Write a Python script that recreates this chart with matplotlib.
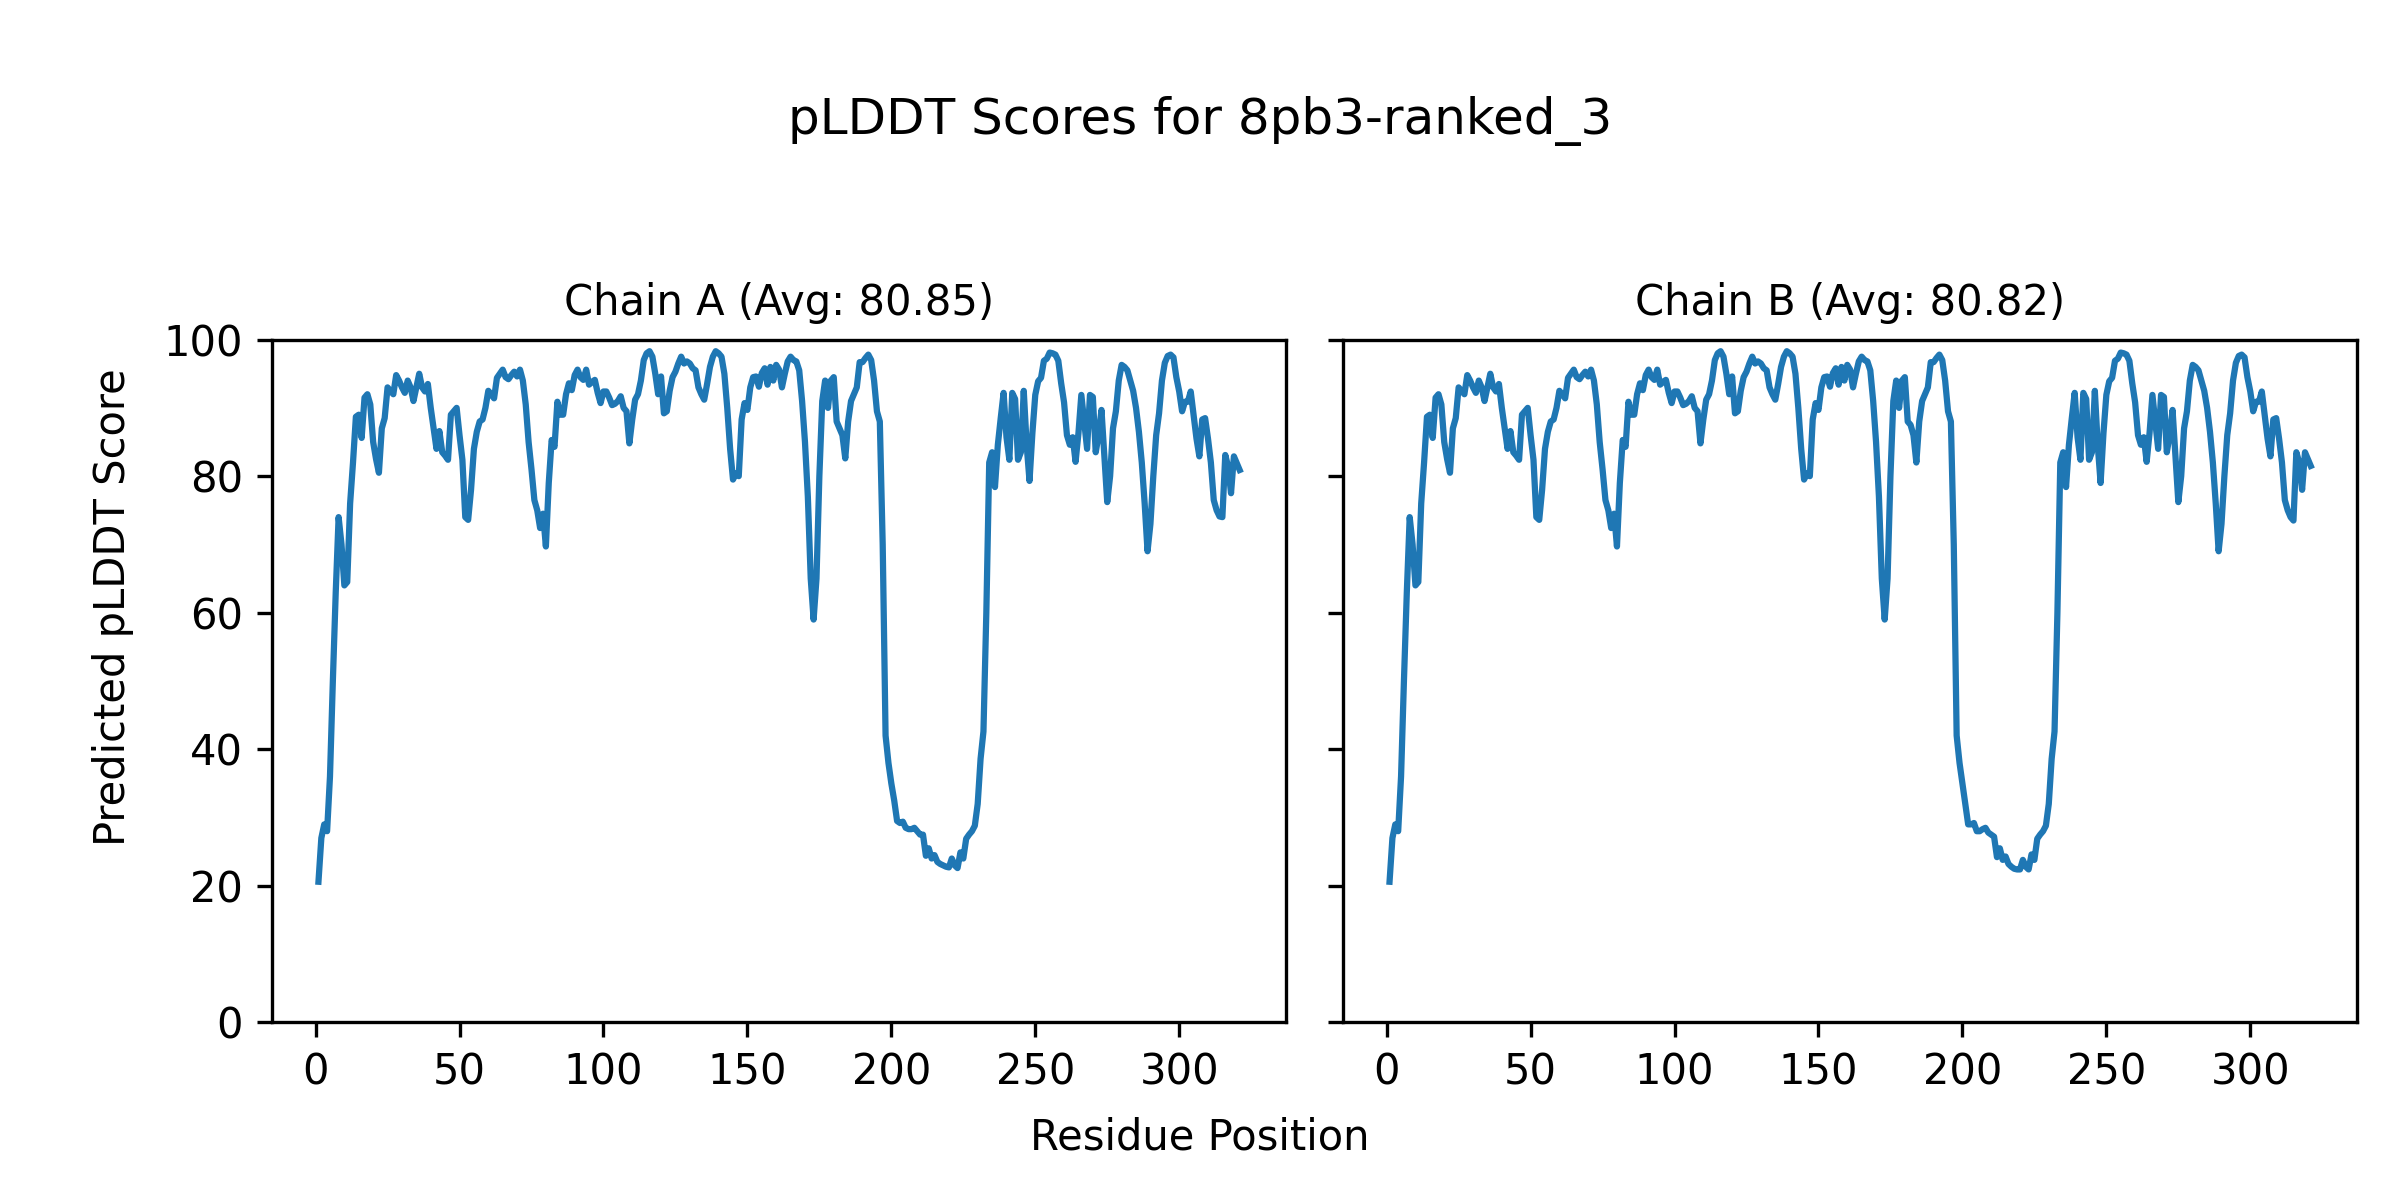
import matplotlib
matplotlib.use("Agg")
from matplotlib import pyplot as plt

model_name = "8pb3-ranked_3"
chain_ids = ["A", "B"]
chain_avgs = [80.85, 80.82]

# per-residue pLDDT, residues 1..321
chain_a = [
    20.6, 27.0, 29.0, 28.0, 36.0, 50.0, 63.0, 74.0, 70.0, 64.0,
    64.5, 76.0, 82.0, 88.7, 89.0, 85.6, 91.5, 92.0, 90.5, 85.0,
    82.5, 80.5, 87.0, 88.5, 93.0, 92.5, 92.0, 94.8, 94.0, 93.0,
    92.2, 94.0, 93.0, 91.0, 93.0, 95.0, 93.0, 92.4, 93.5, 90.0,
    87.0, 84.0, 86.6, 83.5, 83.0, 82.4, 89.0, 89.5, 90.0, 86.0,
    82.4, 74.0, 73.6, 78.0, 84.0, 86.5, 88.0, 88.3, 90.0, 92.5,
    92.0, 91.4, 94.4, 95.0, 95.6, 94.5, 94.2, 94.8, 95.3, 94.6,
    95.6, 94.0, 90.5, 85.0, 81.0, 76.5, 75.0, 72.4, 74.5, 69.7,
    79.0, 85.3, 84.3, 90.9, 89.0, 89.0, 92.0, 93.6, 92.6, 94.8,
    95.6, 94.5, 94.1, 95.6, 93.4, 93.8, 94.1, 92.2, 90.7, 92.4,
    92.4, 91.5, 90.4, 90.6, 91.0, 91.7, 90.0, 89.5, 84.8, 88.3,
    91.2, 92.0, 94.0, 97.0, 98.0, 98.3, 97.5, 95.0, 92.0, 94.6,
    89.2, 89.5, 92.5, 94.5, 95.3, 96.5, 97.5, 96.5, 96.8, 96.5,
    95.8, 95.5, 93.0, 92.0, 91.2, 93.5, 96.0, 97.5, 98.3, 98.0,
    97.5, 95.0, 90.0, 84.0, 79.5, 80.4, 80.0, 88.3, 90.7, 89.7,
    93.0, 94.5, 94.6, 93.1, 95.1, 95.8, 93.4, 96.0, 94.0, 96.3,
    95.6, 93.0, 95.0, 96.8, 97.5, 97.0, 96.8, 95.5, 91.0, 85.0,
    77.0, 65.0, 59.0, 65.0, 80.0, 91.0, 94.0, 90.0, 94.0, 94.5,
    88.0, 87.0, 86.0, 82.6, 88.0, 91.0, 92.0, 93.0, 96.7, 96.7,
    97.3, 97.8, 97.0, 94.0, 89.5, 88.0, 70.0, 42.0, 38.0, 35.0,
    32.5, 29.5, 29.2, 29.4, 28.5, 28.3, 28.3, 28.5, 28.0, 27.5,
    27.5, 24.4, 25.5, 24.0, 24.5, 23.5, 23.2, 23.0, 22.8, 22.7,
    24.0, 23.0, 22.6, 24.9, 24.0, 26.9, 27.5, 28.0, 28.8, 32.0,
    38.6, 42.6, 60.0, 82.0, 83.5, 78.4, 84.6, 88.5, 92.2, 85.7,
    82.4, 92.2, 91.3, 82.4, 83.5, 92.5, 84.6, 79.3, 86.3, 91.9,
    93.9, 94.4, 96.9, 97.2, 98.1, 98.0, 97.8, 96.9, 93.6, 90.8,
    86.0, 84.6, 85.7, 82.1, 86.3, 91.9, 88.0, 84.0, 91.9, 91.6,
    83.5, 86.0, 89.7, 83.0, 76.2, 80.0, 87.0, 89.5, 94.0, 96.3,
    96.0, 95.5, 94.0, 92.5, 90.0, 86.5, 82.0, 76.0, 69.0, 73.0,
    80.0, 86.0, 89.2, 94.0, 96.6, 97.6, 97.8, 97.4, 94.5, 92.4,
    89.5, 90.9, 90.9, 92.4, 89.0, 85.5, 82.9, 88.3, 88.5, 85.5,
    82.0, 76.5, 75.0, 74.1, 74.0, 83.1, 81.4, 77.5, 82.9, 81.9,
    80.9,
]

chain_b = [
    20.6, 27.0, 29.0, 28.0, 36.0, 50.0, 63.0, 74.0, 70.0, 64.0,
    64.5, 76.0, 82.0, 88.7, 89.0, 85.6, 91.5, 92.0, 90.5, 85.0,
    82.5, 80.5, 87.0, 88.5, 93.0, 92.5, 92.0, 94.8, 94.0, 93.0,
    92.2, 94.0, 93.0, 91.0, 93.0, 95.0, 93.0, 92.4, 93.5, 90.0,
    87.0, 84.0, 86.6, 83.5, 83.0, 82.4, 89.0, 89.5, 90.0, 86.0,
    82.4, 74.0, 73.6, 78.0, 84.0, 86.5, 88.0, 88.3, 90.0, 92.5,
    92.0, 91.4, 94.4, 95.0, 95.6, 94.5, 94.2, 94.8, 95.3, 94.6,
    95.6, 94.0, 90.5, 85.0, 81.0, 76.5, 75.0, 72.4, 74.5, 69.7,
    79.0, 85.3, 84.3, 90.9, 89.0, 89.0, 92.0, 93.6, 92.6, 94.8,
    95.6, 94.5, 94.1, 95.6, 93.4, 93.8, 94.1, 92.2, 90.7, 92.4,
    92.4, 91.5, 90.4, 90.6, 91.0, 91.7, 90.0, 89.5, 84.8, 88.3,
    91.2, 92.0, 94.0, 97.0, 98.0, 98.3, 97.5, 95.0, 92.0, 94.6,
    89.2, 89.5, 92.5, 94.5, 95.3, 96.5, 97.5, 96.5, 96.8, 96.5,
    95.8, 95.5, 93.0, 92.0, 91.2, 93.5, 96.0, 97.5, 98.3, 98.0,
    97.5, 95.0, 90.0, 84.0, 79.5, 80.4, 80.0, 88.3, 90.7, 89.7,
    93.0, 94.5, 94.6, 93.1, 95.1, 95.8, 93.4, 96.0, 94.0, 96.3,
    95.6, 93.0, 95.0, 96.8, 97.5, 97.0, 96.8, 95.5, 91.0, 85.0,
    77.0, 65.0, 59.0, 65.0, 80.0, 91.0, 94.0, 90.0, 94.0, 94.5,
    88.0, 87.5, 86.0, 82.0, 88.0, 91.0, 92.0, 93.0, 96.7, 96.7,
    97.3, 97.8, 97.0, 94.0, 89.5, 88.0, 70.0, 42.0, 38.0, 35.0,
    32.0, 29.0, 29.0, 29.2, 28.0, 28.0, 28.3, 28.5, 27.8, 27.5,
    27.2, 24.2, 25.5, 23.8, 24.3, 23.2, 22.8, 22.5, 22.4, 22.4,
    23.8, 22.8, 22.4, 24.6, 23.8, 26.9, 27.5, 28.0, 28.8, 32.0,
    38.6, 42.6, 60.0, 82.0, 83.5, 78.4, 84.6, 88.5, 92.2, 85.7,
    82.4, 92.2, 91.3, 82.4, 83.5, 92.5, 84.6, 79.0, 86.3, 91.9,
    93.9, 94.4, 96.9, 97.2, 98.1, 98.0, 97.8, 96.9, 93.6, 90.8,
    86.0, 84.6, 85.7, 82.1, 86.3, 91.9, 88.0, 84.0, 91.9, 91.6,
    83.5, 86.0, 89.7, 83.0, 76.2, 80.0, 87.0, 89.5, 94.0, 96.3,
    96.0, 95.5, 94.0, 92.5, 90.0, 86.5, 82.0, 76.0, 69.0, 73.0,
    80.0, 86.0, 89.2, 94.0, 96.6, 97.6, 97.8, 97.4, 94.5, 92.4,
    89.5, 90.9, 90.9, 92.4, 89.0, 85.5, 82.9, 88.3, 88.5, 85.5,
    82.0, 76.5, 75.0, 74.0, 73.5, 83.5, 82.0, 78.0, 83.5, 82.5,
    81.5,
]

scores = [chain_a, chain_b]

fig, axes = plt.subplots(1, 2, figsize=(8, 4), dpi=300, sharey=True)
fig.subplots_adjust(left=0.1135, right=0.982, bottom=0.148, top=0.717, wspace=0.057)

for ax, cid, avg, vals in zip(axes, chain_ids, chain_avgs, scores):
    positions = range(1, len(vals) + 1)
    ax.plot(positions, vals, color="tab:blue", linewidth=1.5)
    ax.set_title(f"Chain {cid} (Avg: {avg:.2f})", fontsize=10)
    ax.set_ylim(0, 100)

fig.suptitle(f"pLDDT Scores for {model_name}", fontsize=12, y=0.899, va="center")
fig.text(0.5, 0.052, "Residue Position", ha="center", va="center", fontsize=10)
fig.text(0.047, 0.494, "Predicted pLDDT Score", ha="center", va="center",
         rotation=90, fontsize=10)

fig.savefig("out.png", dpi=300)
